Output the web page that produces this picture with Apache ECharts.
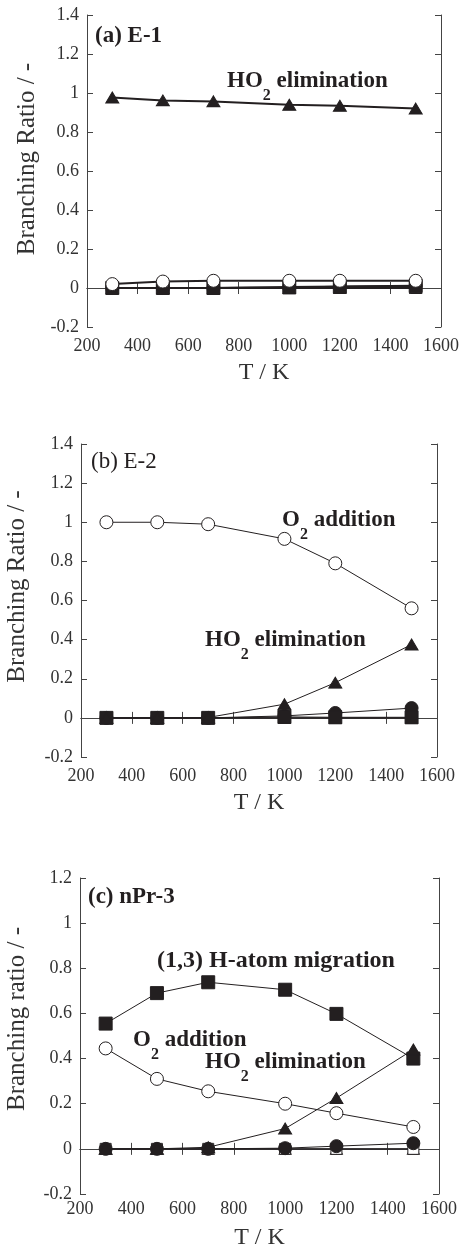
<!DOCTYPE html>
<html>
<head>
<meta charset="utf-8">
<script src="https://cdn.jsdelivr.net/npm/echarts@6/dist/echarts.min.js"></script>
<style>
  html, body { margin: 0; padding: 0; background: #fff; }
  #chart { width: 460px; height: 1247px; }
</style>
</head>
<body>
<div id="chart"></div>
<script>
// temperatures, K
const temps = [300, 500, 700, 1000, 1200, 1500]

// (a) E-1
const e1O2Add = [0.02, 0.033, 0.037, 0.037, 0.037, 0.037]
const e1HO2Elim = [0.977, 0.962, 0.957, 0.94, 0.935, 0.92]
const e1Migration = [0, 0, 0, 0.003, 0.006, 0.01]
const e1FilledCircle = [0, 0, 0, 0.005, 0.008, 0.012]
const e1OpenSquare = [0, 0, 0, 0, 0, 0]
const e1OpenTriangle = [0, 0, 0, 0, 0, 0]

// (b) E-2
const e2O2Add = [1.0, 1.0, 0.99, 0.915, 0.79, 0.56]
const e2HO2Elim = [0, 0, 0.002, 0.07, 0.18, 0.375]
const e2Migration = [0, 0, 0, 0.005, 0.003, 0.003]
const e2FilledCircle = [0, 0, 0, 0.01, 0.025, 0.05]
const e2OpenSquare = [0, 0, 0, 0, 0, 0]
const e2OpenTriangle = [0, 0, 0, 0, 0, 0]

// (c) nPr-3
const c3O2Add = [0.445, 0.31, 0.255, 0.2, 0.158, 0.097]
const c3HO2Elim = [0, 0, 0.007, 0.09, 0.225, 0.44]
const c3Migration = [0.555, 0.69, 0.738, 0.705, 0.598, 0.4]
const c3FilledCircle = [0, 0, 0, 0.003, 0.012, 0.025]
const c3OpenSquare = [0, 0, 0, 0, 0, 0]
const c3OpenTriangle = [0, 0, 0, 0, 0, 0]

const xTicks = { min: 200, max: 1600, interval: 200 }

const FONT = '"Liberation Serif", "DejaVu Serif", serif'
const INK = '#231f20'
const AXIS = '#444'

const panels = [
  {
    grid: { left: 87, right: 19, top: 15, height: 312 },
    yMin: -0.2, yMax: 1.4, yName: 'Branching Ratio / -', yNameGap: 45, yNameShift: 12,
    xLabelMargin: 10, xNameGap: 34, lineWidth: 2,
    series: [e1OpenTriangle, e1OpenSquare, e1FilledCircle, e1Migration, e1O2Add, e1HO2Elim],
  },
  {
    grid: { left: 81, right: 23, top: 444, height: 313 },
    yMin: -0.2, yMax: 1.4, yName: 'Branching Ratio / -', yNameGap: 51, yNameShift: 14,
    xLabelMargin: 10, xNameGap: 34, lineWidth: 1,
    series: [e2OpenTriangle, e2OpenSquare, e2FilledCircle, e2Migration, e2O2Add, e2HO2Elim],
  },
  {
    grid: { left: 80, right: 21, top: 878, height: 316 },
    yMin: -0.2, yMax: 1.2, yName: 'Branching ratio / -', yNameGap: 50, yNameShift: 17,
    xLabelMargin: 6, xNameGap: 32, lineWidth: 1,
    series: [c3OpenTriangle, c3OpenSquare, c3FilledCircle, c3Migration, c3O2Add, c3HO2Elim],
  },
]

// marker style for each series slot, same order as panel.series
const markers = [
  { symbol: 'triangle', size: [12, 11], fill: '#fff' },
  { symbol: 'rect', size: 11, fill: '#fff' },
  { symbol: 'circle', size: 13, fill: INK },
  { symbol: 'rect', size: 13, fill: INK },
  { symbol: 'circle', size: 13, fill: '#fff' },
  { symbol: 'triangle', size: [13, 11], fill: INK },
]

const grids = []
const xAxes = []
const yAxes = []
const series = []

panels.forEach((p, i) => {
  grids.push({ ...p.grid, outerBoundsMode: 'none', containLabel: false })
  const tick = { show: true, inside: true, length: 6, lineStyle: { color: AXIS } }
  const line = { show: true, lineStyle: { color: AXIS, width: 1 } }
  xAxes.push({
    type: 'value', gridIndex: i, ...xTicks,
    name: 'T / K', nameLocation: 'middle', nameGap: p.xNameGap,
    nameTextStyle: { fontFamily: FONT, fontSize: 24, color: '#333' },
    axisLine: line, axisTick: tick, splitLine: { show: false },
    axisLabel: { fontFamily: FONT, fontSize: 18, color: '#333', margin: p.xLabelMargin, formatter: (v) => String(v) },
  })
  xAxes.push({
    type: 'value', gridIndex: i, position: 'top', ...xTicks,
    axisLine: line, axisTick: tick, splitLine: { show: false }, axisLabel: { show: false },
  })
  yAxes.push({
    type: 'value', gridIndex: i, min: p.yMin, max: p.yMax, interval: 0.2,
    name: p.yName, nameLocation: 'middle', nameGap: p.yNameGap,
    // left padding pushes the rotated name up the axis
    nameTextStyle: { fontFamily: FONT, fontSize: 25, color: '#333', padding: [0, 0, 0, p.yNameShift * 2] },
    axisLine: line, axisTick: tick, splitLine: { show: false },
    axisLabel: { fontFamily: FONT, fontSize: 18, color: '#333', margin: 8 },
  })
  yAxes.push({
    type: 'value', gridIndex: i, position: 'right', min: p.yMin, max: p.yMax, interval: 0.2,
    axisLine: line, axisTick: tick, splitLine: { show: false }, axisLabel: { show: false },
  })
  p.series.forEach((values, k) => {
    const m = markers[k]
    series.push({
      type: 'line',
      xAxisIndex: i * 2,
      yAxisIndex: i * 2,
      data: temps.map((t, j) => [t, values[j]]),
      symbol: m.symbol,
      symbolSize: m.size,
      showSymbol: true,
      animation: false,
      silent: true,
      z: 2 + k,
      lineStyle: { color: INK, width: p.lineWidth },
      itemStyle: { color: m.fill, borderColor: INK, borderWidth: 1, opacity: 1 },
    })
  })
})

// annotation text, rich text for subscripts
const rich = (size, weight) => ({
  m: { fontFamily: FONT, fontSize: size, fontWeight: weight, color: INK, lineHeight: 44, verticalAlign: 'middle' },
  s: { fontFamily: FONT, fontSize: 16, fontWeight: weight, color: INK, lineHeight: 44, verticalAlign: 'bottom' },
})
const label = (a) => ({
  type: 'text', left: a.x, top: a.y, silent: true, z: 100,
  style: { text: a.text, rich: rich(a.size, a.w), fontFamily: FONT, fontSize: a.size, fontWeight: a.w, fill: INK },
})

const annotations = [
  { x: 95, y: 25, text: '{m|(a) E-1}', w: 'bold', size: 23 },
  { x: 227, y: 70, text: '{m|HO}{s|2}{m| elimination}', w: 'bold', size: 23 },
  { x: 91, y: 450, text: '{m|(b) E-2}', w: 'normal', size: 23 },
  { x: 282, y: 509, text: '{m|O}{s|2}{m| addition}', w: 'bold', size: 23 },
  { x: 205, y: 629, text: '{m|HO}{s|2}{m| elimination}', w: 'bold', size: 23 },
  { x: 88, y: 886, text: '{m|(c) nPr-3}', w: 'bold', size: 23 },
  { x: 157, y: 949, text: '{m|(1,3) H-atom migration}', w: 'bold', size: 24 },
  { x: 133, y: 1029, text: '{m|O}{s|2}{m| addition}', w: 'bold', size: 23 },
  { x: 205, y: 1051, text: '{m|HO}{s|2}{m| elimination}', w: 'bold', size: 23 },
]

const chart = echarts.init(document.getElementById('chart'), null, { renderer: 'canvas' })
chart.setOption({
  backgroundColor: '#fff',
  animation: false,
  grid: grids,
  xAxis: xAxes,
  yAxis: yAxes,
  series: series,
  graphic: annotations.map(label),
})
</script>
</body>
</html>
